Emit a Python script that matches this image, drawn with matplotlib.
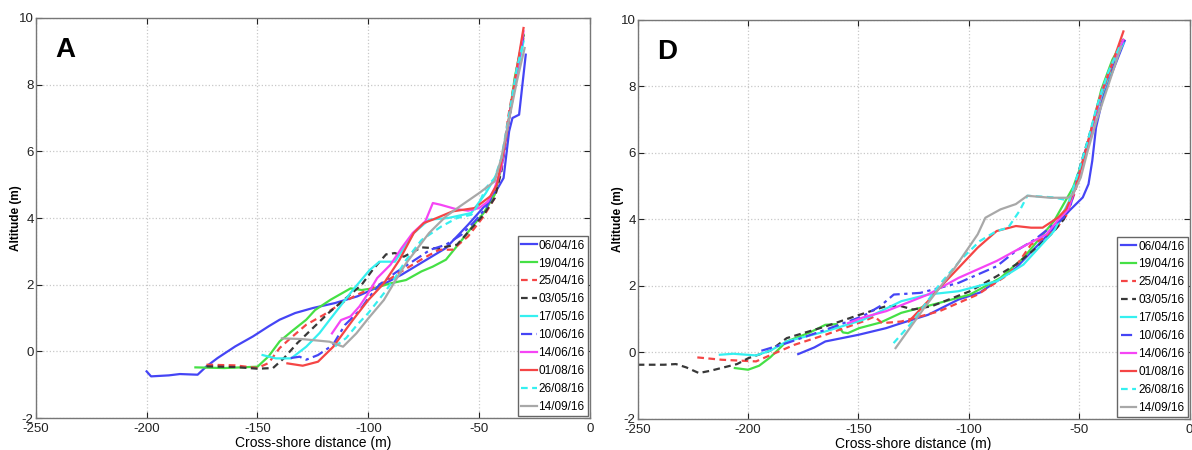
import matplotlib.pyplot as plt

# legend dates and line styles (same order in both panels)
dates = ["06/04/16", "19/04/16", "25/04/16", "03/05/16", "17/05/16",
         "10/06/16", "14/06/16", "01/08/16", "26/08/16", "14/09/16"]
colors = ["#4545f5", "#45e045", "#f54545", "#383838", "#35f0f0",
          "#4545f5", "#f545f5", "#f54545", "#35f0f0", "#a8a8a8"]
styles = ["-", "-", (0, (3, 2)), (0, (3, 2)), "-",
          (0, (5, 2, 1.5, 2)), "-", "-", (0, (3, 2)), "-"]

# profile A (cross-shore distance, altitude)
A_0604 = [(-200, -0.6), (-198, -0.75), (-190, -0.72), (-185, -0.68), (-177, -0.7), (-173, -0.45),
          (-168, -0.2), (-160, 0.15), (-152, 0.45), (-145, 0.75), (-140, 0.95), (-133, 1.15),
          (-125, 1.3), (-115, 1.45), (-105, 1.65), (-95, 1.95), (-85, 2.3), (-75, 2.7), (-65, 3.1),
          (-55, 3.8), (-47, 4.4), (-42, 4.85), (-39, 5.2), (-36.5, 6.6), (-35, 7.0), (-32, 7.1),
          (-30.5, 8.0), (-29, 8.9)]
A_1904 = [(-178, -0.48), (-165, -0.5), (-150, -0.46), (-145, -0.15), (-140, 0.3), (-134.6, 0.6),
          (-128, 0.95), (-124, 1.24), (-117, 1.55), (-108, 1.89), (-103, 1.84), (-97, 1.9), (-90, 2.04),
          (-83, 2.14), (-76, 2.4), (-71, 2.54), (-65, 2.75), (-59, 3.24), (-53, 3.75), (-48, 4.15),
          (-43, 4.7), (-40, 5.5), (-37, 6.8), (-34, 8.2), (-30, 9.5)]
A_2504 = [(-173, -0.4), (-160, -0.42), (-150, -0.5), (-145, -0.35), (-140, 0.1), (-135, 0.4),
          (-128, 0.8), (-120, 1.1), (-112, 1.45), (-105, 1.7), (-100, 1.85), (-92, 2.1), (-85, 2.4),
          (-75, 2.8), (-68, 3.05), (-62, 3.05), (-55, 3.45), (-48, 4.05), (-43, 4.6), (-40, 5.5),
          (-37, 7.0), (-33, 8.5), (-30, 9.4)]
A_0305 = [(-173, -0.45), (-160, -0.47), (-150, -0.52), (-143, -0.5), (-138, -0.2), (-132, 0.25),
          (-125, 0.7), (-118, 1.15), (-110, 1.6), (-103, 2.0), (-98, 2.45), (-92, 2.91), (-88, 2.95),
          (-84, 2.84), (-76, 3.12), (-69, 3.09), (-60, 3.2), (-54, 3.65), (-48, 4.1), (-43, 4.6),
          (-40, 5.4), (-37, 6.8), (-33, 8.3), (-30, 9.5)]
A_1705 = [(-147.7, -0.11), (-141.7, -0.21), (-134.8, -0.21), (-128, 0.14), (-122, 0.55), (-117.5, 0.94),
          (-107, 1.84), (-99.4, 2.44), (-95, 2.69), (-88, 2.69), (-84, 3.1), (-79.5, 3.55), (-72.6, 3.95),
          (-64, 4.0), (-53.6, 4.15), (-47, 4.75), (-43, 5.2), (-40, 5.7), (-37, 6.8), (-33, 8.3), (-30, 9.3)]
A_1006 = [(-135, -0.2), (-131, -0.16), (-128, -0.25), (-122.7, -0.11), (-116, 0.19), (-110.6, 0.79),
          (-103.7, 1.24), (-100, 1.6), (-95, 2.0), (-88, 2.35), (-80, 2.7), (-72, 3.05), (-65, 3.2),
          (-58, 3.5), (-52, 3.9), (-47, 4.3), (-43, 4.8), (-40, 5.5), (-37, 6.8), (-33, 8.4), (-30, 9.5)]
A_1406 = [(-116.4, 0.54), (-112.3, 0.94), (-108, 1.05), (-104, 1.35), (-100, 1.75), (-96, 2.2),
          (-90, 2.6), (-85, 3.1), (-80, 3.55), (-74.3, 3.9), (-70.9, 4.45), (-67.5, 4.4), (-60.6, 4.27),
          (-55, 4.22), (-50, 4.3), (-46, 4.5), (-43, 4.9), (-40, 5.5), (-37, 6.8), (-33, 8.4), (-30, 9.6)]
A_0108 = [(-136.5, -0.36), (-129.6, -0.43), (-122.7, -0.31), (-115.8, 0.14), (-107, 0.94), (-100, 1.54),
          (-93, 2.04), (-86, 2.74), (-79.5, 3.55), (-75, 3.85), (-71, 3.95), (-62, 4.2), (-52, 4.3),
          (-45, 4.65), (-42, 5.0), (-39, 6.0), (-36, 7.2), (-33, 8.5), (-30, 9.7)]
A_2608 = [(-115, 0.15), (-110, 0.4), (-105, 0.8), (-100, 1.15), (-93, 1.74), (-88, 2.2), (-83, 2.74),
          (-76, 3.34), (-67, 3.75), (-60, 4.0), (-53.5, 4.1), (-50, 4.45), (-47, 4.9), (-43, 5.2),
          (-40, 5.8), (-37, 6.9), (-33, 8.5), (-30, 9.3)]
A_1409 = [(-139, 0.39), (-130, 0.37), (-117.5, 0.29), (-111.4, 0.14), (-105.4, 0.54), (-100, 0.99),
          (-93, 1.54), (-88, 2.1), (-83, 2.64), (-72.6, 3.55), (-65, 4.05), (-58.7, 4.35), (-50, 4.75),
          (-43, 5.1), (-40, 5.8), (-37, 6.8), (-33, 8.1), (-29.5, 9.1)]

# profile D (cross-shore distance, altitude)
D_0604 = [(-177.3, -0.05), (-170, 0.15), (-165, 0.33), (-150, 0.53), (-137.5, 0.73), (-130.6, 0.88),
          (-118.5, 1.13), (-104.7, 1.59), (-95, 1.8), (-87.4, 2.14), (-78.7, 2.54), (-68.4, 3.25),
          (-62, 3.7), (-54.5, 4.26), (-48.4, 4.66), (-45.8, 5.06), (-44.1, 5.76), (-42.4, 6.76),
          (-38.9, 7.77), (-34, 8.6), (-29.4, 9.37)]
D_1904 = [(-206, -0.47), (-200, -0.52), (-195, -0.4), (-190, -0.15), (-182.5, 0.33), (-172, 0.6),
          (-165, 0.83), (-160, 0.85), (-157, 0.6), (-154.8, 0.58), (-149.7, 0.73), (-140, 0.9),
          (-130.6, 1.19), (-113.3, 1.49), (-99.5, 1.74), (-85.7, 2.24), (-75.3, 2.84), (-61.4, 3.95),
          (-52.8, 4.96), (-47.6, 5.9), (-43, 7.1), (-40, 7.9), (-35, 8.8), (-30, 9.4)]
D_2504 = [(-223, -0.15), (-212, -0.22), (-196.4, -0.27), (-189.5, -0.07), (-179, 0.23), (-165, 0.53),
          (-148, 0.93), (-142.7, 1.08), (-139.3, 0.88), (-130.6, 0.93), (-113.3, 1.24), (-96, 1.74),
          (-82.2, 2.34), (-77, 2.75), (-71.8, 3.25), (-68.4, 3.35), (-61.4, 3.65), (-56, 4.1),
          (-52, 4.8), (-48, 5.8), (-43, 7.0), (-39, 7.9), (-35, 8.7), (-30, 9.4)]
D_0305 = [(-250, -0.37), (-238, -0.37), (-232.7, -0.35), (-228, -0.45), (-222.3, -0.62), (-217, -0.55),
          (-205, -0.35), (-199.8, -0.17), (-190, 0.05), (-182.5, 0.43), (-165, 0.78), (-151.4, 1.09),
          (-137.5, 1.39), (-130.6, 1.39), (-125.4, 1.29), (-116.8, 1.39), (-99.5, 1.84), (-87.4, 2.29),
          (-78.7, 2.64), (-68.4, 3.2), (-62, 3.6), (-57, 4.0), (-53, 4.7), (-50, 5.5), (-46, 6.4),
          (-42, 7.3), (-38, 8.1), (-34, 8.7), (-30, 9.4)]
D_1705 = [(-212.8, -0.07), (-206.7, -0.04), (-196.4, -0.09), (-190, 0.05), (-182.5, 0.33), (-165, 0.63),
          (-148, 0.98), (-130.6, 1.54), (-118.5, 1.74), (-104.7, 1.84), (-87.4, 2.14), (-75.3, 2.64),
          (-61.4, 3.65), (-54.5, 4.56), (-52, 5.0), (-48, 5.8), (-44, 6.8), (-40, 7.7), (-35, 8.6),
          (-30, 9.3)]
D_1006 = [(-194, 0.05), (-182.5, 0.28), (-165, 0.68), (-148, 1.09), (-140, 1.4), (-134, 1.74),
          (-122, 1.79), (-104.7, 2.09), (-87.4, 2.59), (-78.7, 3.05), (-70, 3.4), (-61.4, 3.85),
          (-57, 4.05), (-54, 4.4), (-51, 5.2), (-48, 5.9), (-44, 6.8), (-40, 7.8), (-35, 8.6), (-30, 9.4)]
D_1406 = [(-154.8, 0.88), (-148, 1.05), (-137.5, 1.24), (-118.5, 1.74), (-104.7, 2.24), (-87.4, 2.75),
          (-73.5, 3.25), (-64.9, 3.55), (-60, 3.95), (-55, 4.3), (-52, 4.9), (-48, 5.8), (-44, 6.8),
          (-40, 7.8), (-35, 8.7), (-30, 9.4)]
D_0108 = [(-127.2, 0.93), (-118.5, 1.54), (-113.3, 1.94), (-104.7, 2.54), (-96, 3.15), (-87.4, 3.65),
          (-78.7, 3.8), (-71.8, 3.75), (-66.6, 3.75), (-59.7, 4.05), (-56, 4.3), (-52, 4.9), (-49, 5.6),
          (-45, 6.6), (-41, 7.6), (-36, 8.5), (-30, 9.65)]
D_2608 = [(-134.1, 0.28), (-125.4, 0.93), (-113.3, 2.04), (-102.9, 2.84), (-95, 3.35), (-87.4, 3.65),
          (-82.2, 3.75), (-77, 4.26), (-73.5, 4.71), (-61.4, 4.66), (-54.5, 4.56), (-50, 5.5),
          (-46, 6.4), (-42, 7.4), (-37, 8.4), (-31, 9.3)]
D_1409 = [(-133.2, 0.13), (-120.2, 1.34), (-106.4, 2.54), (-96, 3.55), (-92.5, 4.05), (-85.7, 4.3),
          (-78.7, 4.46), (-73.5, 4.71), (-63, 4.65), (-55, 4.65), (-52.8, 4.76), (-49.3, 5.26),
          (-46, 6.1), (-42, 7.0), (-39, 7.6), (-35, 8.4), (-31, 9.2)]

panel_A = [A_0604, A_1904, A_2504, A_0305, A_1705, A_1006, A_1406, A_0108, A_2608, A_1409]
panel_D = [D_0604, D_1904, D_2504, D_0305, D_1705, D_1006, D_1406, D_0108, D_2608, D_1409]

plt.rcParams['font.family'] = ['Liberation Sans', 'DejaVu Sans']
plt.rcParams['axes.unicode_minus'] = False

fig = plt.figure(figsize=(11.92, 4.5), dpi=100)
ax_a = fig.add_axes([0.030, 0.071, 0.465, 0.889])
ax_d = fig.add_axes([0.535, 0.069, 0.463, 0.887])


def draw_panel(ax, profiles, letter):
    for pts, lab, col, ls in zip(profiles, dates, colors, styles):
        xs = [p[0] for p in pts]
        ys = [p[1] for p in pts]
        ax.plot(xs, ys, color=col, linestyle=ls, linewidth=1.6, label=lab)
    ax.set_xlim(-250, 0)
    ax.set_ylim(-2, 10)
    ax.set_xticks([-250, -200, -150, -100, -50, 0])
    ax.set_yticks([-2, 0, 2, 4, 6, 8, 10])
    ax.grid(True, linestyle=":", color="#c8c8c8", linewidth=0.9)
    ax.tick_params(direction="in", length=4, top=True, right=True, labelsize=9.5,
                   colors="#222222")
    ax.tick_params(axis="x", pad=3.5)
    ax.tick_params(axis="y", pad=1.5)
    for sp in ax.spines.values():
        sp.set_color("#777777")
        sp.set_linewidth(1.0)
    ax.set_xlabel("Cross-shore distance (m)", fontsize=10, labelpad=0.5)
    ax.set_ylabel("Altitude (m)", fontsize=8.5, fontweight="bold", labelpad=-2.5)
    ax.text(0.035, 0.92, letter, transform=ax.transAxes, fontsize=20, fontweight="bold",
            va="center")
    leg = ax.legend(loc="lower right", fontsize=8.5, handlelength=1.3, handletextpad=0.15,
                    labelspacing=0.5, borderpad=0.3, borderaxespad=0.15, fancybox=False,
                    framealpha=1)
    leg.get_frame().set_edgecolor("#666666")
    leg.get_frame().set_linewidth(1.0)


draw_panel(ax_a, panel_A, "A")
draw_panel(ax_d, panel_D, "D")

fig.savefig("out.png", dpi=100)
